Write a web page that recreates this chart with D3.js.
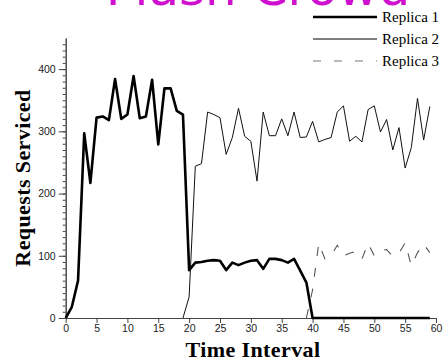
<!DOCTYPE html>
<html>
<head>
<meta charset="utf-8">
<script src="https://cdn.jsdelivr.net/npm/d3@7"></script>
<style>
  body { margin: 0; background: #fff; }
  svg { display: block; }
  .tick text { font-family: 'Liberation Sans', sans-serif; font-size: 10.5px; fill: #222; }
</style>
</head>
<body>
<div id="chart"></div>
<script>
const W = 445, H = 361

// time steps 0..59
const times = d3.range(0, 60)

// Replica 1: t = 0..59
const replica1 = [0, 18, 60, 297, 217, 322, 324, 318, 384, 320,
  327, 389, 321, 324, 383, 279, 369, 369, 333, 327,
  77, 89, 90, 92, 93, 92, 77, 89, 85, 89,
  92, 93, 79, 95, 95, 93, 89, 95, 76, 57,
  0, 0, 0, 0, 0, 0, 0, 0, 0, 0,
  0, 0, 0, 0, 0, 0, 0, 0, 0, 0]

// Replica 2: starts at t = 19
const replica2Start = 19
const replica2 = [0, 34, 244, 248, 331, 327, 322, 263, 290, 337,
  292, 284, 220, 331, 293, 293, 320, 293, 331, 290,
  291, 316, 283, 287, 290, 331, 341, 284, 292, 283,
  335, 341, 299, 319, 270, 306, 241, 274, 353, 286, 340]

// Replica 3: starts at t = 39
const replica3Start = 39
const replica3 = [0, 45, 120, 95, 100, 117, 100, 104, 107, 95,
  120, 100, 108, 110, 99, 104, 121, 84, 105, 119, 105]

const xTicks = d3.range(0, 61, 5)
const yTicks = [0, 100, 200, 300, 400]
const yMinor = d3.range(0, 450, 10)
const seriesNames = ['Replica 1', 'Replica 2', 'Replica 3']

const x = d3.scaleLinear().domain([0, 60]).range([65.7, 436])
const y = d3.scaleLinear().domain([0, 450]).range([318, 38])

const svg = d3.select('#chart').append('svg')
  .attr('width', W)
  .attr('height', H)

// Title (mostly clipped at the top)
svg.append('text')
  .attr('x', 258)
  .attr('y', 5)
  .attr('text-anchor', 'middle')
  .attr('font-family', "'DejaVu Sans', sans-serif")
  .attr('font-size', 50)
  .attr('fill', '#d010d0')
  .text('Flash Crowd')

// Y axis: minor ticks
svg.append('g')
  .attr('transform', `translate(${x(0)},0)`)
  .call(d3.axisLeft(y).tickValues(yMinor).tickSize(3).tickFormat('').tickSizeOuter(0))
  .call(g => g.selectAll('line, path').attr('stroke', '#444'))

// Y axis: major ticks
svg.append('g')
  .attr('transform', `translate(${x(0)},0)`)
  .call(d3.axisLeft(y).tickValues(yTicks).tickSize(7).tickPadding(3).tickSizeOuter(0))
  .call(g => g.selectAll('line, path').attr('stroke', '#444'))

// X axis
svg.append('g')
  .attr('transform', `translate(0,${y(0)})`)
  .call(d3.axisBottom(x).tickValues(xTicks).tickSize(5).tickPadding(2).tickSizeOuter(0))
  .call(g => g.selectAll('line, path').attr('stroke', '#444'))

// Axis titles
svg.append('text')
  .attr('x', 253)
  .attr('y', 357)
  .attr('text-anchor', 'middle')
  .attr('font-family', "'Liberation Serif', serif")
  .attr('font-weight', 'bold')
  .attr('font-size', 22)
  .attr('letter-spacing', 0.4)
  .text('Time Interval')

svg.append('text')
  .attr('transform', 'translate(30,178) rotate(-90)')
  .attr('text-anchor', 'middle')
  .attr('font-family', "'Liberation Serif', serif")
  .attr('font-weight', 'bold')
  .attr('font-size', 22)
  .attr('letter-spacing', 0.4)
  .text('Requests Serviced')

const line = d3.line()
  .x(d => x(d[0]))
  .y(d => y(d[1]))

const styles = [
  { stroke: '#000', width: 2.6, dash: null },
  { stroke: '#111', width: 1, dash: null },
  { stroke: '#555', width: 1.1, dash: '9,12' }
]

const series = [
  replica1.map((v, i) => [times[i], v]),
  replica2.map((v, i) => [replica2Start + i, v]),
  replica3.map((v, i) => [replica3Start + i, v])
]

svg.append('g')
  .selectAll('path')
  .data(series)
  .join('path')
  .attr('fill', 'none')
  .attr('stroke', (d, i) => styles[i].stroke)
  .attr('stroke-width', (d, i) => styles[i].width)
  .attr('stroke-dasharray', (d, i) => styles[i].dash)
  .attr('stroke-linejoin', 'round')
  .attr('d', line)

// Legend
const legend = svg.append('g')
  .selectAll('g')
  .data(seriesNames)
  .join('g')
  .attr('transform', (d, i) => `translate(313,${17 + i * 22})`)

legend.append('line')
  .attr('x1', 0)
  .attr('x2', 64)
  .attr('stroke', (d, i) => i === 2 ? '#777' : '#000')
  .attr('stroke-width', (d, i) => styles[i].width)
  .attr('stroke-dasharray', (d, i) => i === 2 ? '8,13' : null)

legend.append('text')
  .attr('x', 69)
  .attr('y', 5)
  .attr('font-family', "'Liberation Serif', serif")
  .attr('font-size', 15)
  .text(d => d)
</script>
</body>
</html>
